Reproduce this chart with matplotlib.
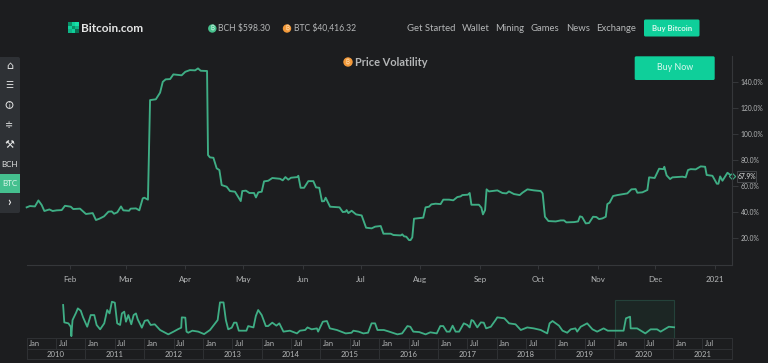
import matplotlib
matplotlib.use("Agg")
import matplotlib.pyplot as plt
from matplotlib.patches import Rectangle, FancyBboxPatch, Circle
from matplotlib.transforms import blended_transform_factory

# ---------- data ----------
main_days = [8.5,10.2,12.8,14.6,16.3,17.7,20.3,22,24.1,26.7,28.4,31.4,32.7,36.2,39.3,42.8,44.5,46.3,48.7,51,52.7,53.9,55.6,57.5,58.7,61.7,62.5,65.3,67,68.8,69.6,71.5,
72.6,75.6,77.8,79.2,80.7,83,84.7,89,90.9,93.3,96,97.5,98.9,101.5,102.2,
102.7,103.7,105.5,107.2,108.6,109.8,112.4,114.1,116.7,119.7,120.5,122.4,124.2,126.6,127.6,128.8,130.6,131.8,134,136.1,140.1,141.5,142.9,144.4,145.8,149.1,149.6,150.8,152.6,154.8,157.4,158.8,160.5,161.9,163,163.8,166.1,171,172.7,174.2,174.7,175.6,177.3,179.6,182.5,184.8,187.7,189.5,192.4,193.8,
197.6,199,202.8,203.6,204.5,205.7,207.1,207.9,208.8,209.7,214.5,215.7,217.5,218.7,220.9,223.5,224.9,227.9,230.1,232.2,233.9,234.8,237.7,238.6,239.5,243.4,244.7,245.5,246.6,247.4,248.6,253,255.6,257.7,259,261.6,264.6,266,268.6,272,275.5,276.5,277.7,279.5,283.3,285.9,287.6,288.8,292.8,294.9,295.9,297,298.9,300.6,302.7,304.4,305.8,307.5,309.3,310.1,311.3,313.1,315.3,320.5,322.6,324.8,325.7,328.3,330.9,331.8,334.7,337,339.2,339.7,340.9,342.7,343.9,349.1,350.8,352,353.4,356,358.6,360.9,361.7,364.7,367,367.8,368.7,369.9,372.5,374.6]
main_vol = [43.8,44.8,44.5,49.1,45.6,41,42.2,41,41.5,41.7,45,44.3,42.5,42.8,38.7,39.4,34.1,35.1,36.9,40.5,40.7,38.9,40,44.5,41.5,41.2,42.8,43,41.5,50.7,51.2,49.7,
126,126.6,131.7,140,141.9,142.1,145.7,145,147.7,149,148.8,150.3,148.5,148.3,148.3,
83.9,82.1,81.8,73.7,72.4,60.9,59.6,56.3,55.8,48.6,56.3,56.6,54.8,54.8,51.4,55.3,55.8,63.7,64.2,66.3,65.7,64.5,67,65,66.5,67,68,58.8,58.8,63.9,63.9,59.1,58.8,48.4,48.6,51.2,44.3,43.8,40.2,40.5,41.7,39.4,41.2,38.4,37.6,28.2,27.7,29,29.5,23.6,
23.6,22.6,22.3,23.1,21.6,21.3,18.7,18.7,20.8,35.1,35.9,43.8,44.3,46.1,46.6,46.3,49.7,49.7,49.2,51.7,52.2,53.2,53.5,54.8,45.8,45.8,43.5,38.4,41.7,57.6,56,56.8,54.8,54.5,56,54,53.2,55,57.6,56.8,56.3,54.5,36.6,33.3,33,33.8,33.8,32.3,32.5,33,36.9,36.4,31.5,31.8,36.6,36.4,34.8,35.3,36.6,46.3,47.4,52.5,53.2,54.5,57.6,57.8,55,55.3,57.1,66.8,66.3,73.4,73.1,74.9,68.3,65.5,66.8,67.3,66.8,72.4,73.1,72.9,75.2,74.9,68.6,68,61.9,61.9,67.5,64.2,70.3,67.9]
month_days = [31,60,91,121,152,182,213,244,274,305,335,366]
month_labels = ["Feb","Mar","Apr","May","Jun","Jul","Aug","Sep","Oct","Nov","Dec","2021"]
y_ticks = [20,40,60,80,100,120,140]
y_labels = ["20.0%","40.0%","60.0%","80.0%","100.0%","120.0%","140.0%"]

nav_years = [2010.62,2010.64,2010.71,2010.75,2010.76,2010.78,2010.84,2010.87,2010.92,2010.96,2011.03,2011.09,2011.15,2011.19,2011.25,2011.32,2011.37,2011.41,2011.45,2011.5,2011.54,2011.59,2011.62,2011.66,2011.69,2011.73,2011.78,2011.82,2011.86,2011.89,2011.96,2012.01,2012.06,2012.11,2012.18,2012.27,2012.41,2012.5,2012.58,2012.63,2012.64,2012.7,2012.72,2012.75,2012.82,2012.92,2013.02,2013.12,2013.25,2013.29,2013.35,2013.39,2013.43,2013.49,2013.53,2013.57,2013.61,2013.74,2013.77,2013.86,2013.9,2013.94,2014.0,2014.07,2014.11,2014.18,2014.25,2014.3,2014.37,2014.48,2014.6,2014.65,2014.74,2014.78,2014.85,2014.94,2014.96,2015.04,2015.11,2015.16,2015.28,2015.43,2015.53,2015.56,2015.65,2015.73,2015.81,2015.87,2015.93,2015.97,2016.08,2016.17,2016.31,2016.39,2016.48,2016.53,2016.58,2016.68,2016.79,2016.87,2016.98,2017.04,2017.09,2017.15,2017.2,2017.25,2017.3,2017.36,2017.44,2017.5,2017.54,2017.57,2017.6,2017.67,2017.73,2017.78,2017.82,2017.9,2017.98,2018.01,2018.13,2018.21,2018.32,2018.41,2018.52,2018.63,2018.75,2018.86,2018.9,2018.95,2019.06,2019.12,2019.2,2019.26,2019.34,2019.37,2019.43,2019.54,2019.63,2019.71,2019.82,2019.89,2020.02,2020.16,2020.2,2020.27,2020.28,2020.39,2020.53,2020.62,2020.73,2020.79,2020.93,2021.02]
nav_vol = [231,103,96,71,2,120,174,206,189,140,71,157,157,84,52,96,194,169,255,248,96,84,169,182,108,157,89,157,169,125,64,115,120,84,89,47,15,35,54,64,140,138,35,27,42,35,17,47,120,250,250,120,52,64,101,101,42,42,76,66,150,194,157,76,76,101,79,96,35,42,22,42,47,66,52,59,35,108,113,59,47,22,27,42,35,22,27,96,96,47,47,35,15,22,76,71,35,32,15,30,22,76,76,35,35,79,35,35,96,84,66,120,115,66,103,101,59,71,120,140,133,96,89,47,66,59,47,22,96,113,79,42,27,52,59,35,71,96,52,35,59,42,42,42,133,145,59,59,22,52,52,35,71,67]
nav_year_ticks = list(range(2010, 2023))
selection = (2020.02, 2021.02)

# ---------- palette ----------
BG = "#1c1d1f"; LINE = "#3fae85"; GRID = "#35373a"; TABLE = "#2f3134"; TXT = "#b4b6b7"; BRIGHT = "#e4e5e5"
BTN = "#0fcf9a"; SIDE = "#2e3135"; ORANGE = "#f2993a"

W, H = 768, 363
plt.rcParams["font.family"] = ["Lato", "DejaVu Sans"]
fig = plt.figure(figsize=(W/100, H/100), dpi=100, facecolor=BG)

def axes_px(l, t, r, b, **kw):
    return fig.add_axes([l/W, 1-b/H, (r-l)/W, (b-t)/H], **kw)

# ---------- main chart ----------
ax = axes_px(27, 56, 731.5, 264.5, facecolor="none")
ax.plot(main_days, main_vol, color=LINE, lw=1.35, solid_joinstyle="round", clip_on=False)
ax.plot(main_days[-1], main_vol[-1], "D", ms=3.2, mfc=BG, mec=LINE, mew=0.8, clip_on=False)
ax.set_xlim(8.68, 374.6); ax.set_ylim(0, 159.8)
for s in ("top", "left"):
    ax.spines[s].set_visible(False)
for s in ("bottom", "right"):
    ax.spines[s].set_color(GRID); ax.spines[s].set_linewidth(0.8)
ax.yaxis.tick_right()
ax.set_xticks(month_days, month_labels)
ax.set_yticks(y_ticks, y_labels)
ax.tick_params(axis="x", colors=GRID, length=3, width=0.7, pad=5, labelsize=5.8, labelcolor=TXT)
ax.tick_params(axis="y", colors=GRID, length=4, width=0.7, pad=2.8, labelsize=4.9, labelcolor=TXT)

# ---------- navigator ----------
nav = axes_px(26.7, 299, 731.7, 338.3, facecolor="none")
nav.set_xlim(2010, 2022); nav.set_ylim(-14, 275)
nav.axis("off")
nav.add_patch(Rectangle((selection[0], -14), selection[1]-selection[0], 283, fc="#1c2624", ec="#24423a", lw=0.8))
nav.plot(nav_years, nav_vol, color=LINE, lw=1.3, solid_joinstyle="round", clip_on=False)

# ---------- page furniture in pixel coordinates ----------
ui = fig.add_axes([0, 0, 1, 1], facecolor="none", zorder=5)
ui.set_xlim(0, W); ui.set_ylim(H, 0); ui.axis("off")

def box(x0, y0, x1, y1, fc, r=1.5, ec="none"):
    ui.add_patch(FancyBboxPatch((x0, y0), x1-x0, y1-y0, boxstyle=f"round,pad=0,rounding_size={r}", fc=fc, ec=ec, lw=0.6))

def coin(x, y, r, c, sym="₿", size=4.5):
    ui.add_patch(Circle((x, y), r, fc=c, ec="none"))
    ui.text(x, y, sym, color="#ffe2b8" if c == ORANGE else "#d8f5e8", fontsize=size, ha="center", va="center",
            family=["Inter", "Noto Sans", "DejaVu Sans"])

# navigator calendar table
tr = blended_transform_factory(nav.transData, ui.transData)
for y in (338.3, 349, 359):
    ui.plot([2010, 2022], [y, y], color=TABLE, lw=0.7, transform=tr, clip_on=False)
for yr in nav_year_ticks:
    ui.plot([yr, yr], [338.3, 359], color=TABLE, lw=0.7, transform=tr)
    if yr < 2022:
        ui.plot([yr+0.5, yr+0.5], [338.3, 349], color=TABLE, lw=0.7, transform=tr)
        ui.text(yr+0.14, 344, "Jan", color=TXT, fontsize=5.4, ha="center", va="center", transform=tr)
        ui.text(yr+0.62, 344, "Jul", color=TXT, fontsize=5.4, ha="center", va="center", transform=tr)
        ui.text(yr+0.5, 354.5, str(yr), color=TXT, fontsize=5.6, ha="center", va="center", transform=tr)

# header
for x, y, c in [(69, 23, "#0a8f67"), (72.5, 23, "#0fcf9a"), (76, 23, "#17e0a8"),
                (69, 26.5, "#0fcf9a"), (72.5, 26.5, "#0a8f67"), (76, 26.5, "#0fb487"),
                (69, 30, "#0fb487"), (72.5, 30, "#0fcf9a"), (76, 30, "#0a6f52")]:
    ui.add_patch(Rectangle((x-0.8, y-0.8), 3.6, 3.6, fc=c, ec="none"))
ui.text(80.5, 28.5, "Bitcoin.com", color=BRIGHT, fontsize=8.5, fontweight="bold", ha="left", va="center")
coin(212.3, 28.5, 4.2, "#46c08c")
ui.text(218.5, 28.5, "BCH $598.30", color=TXT, fontsize=6.2, ha="left", va="center")
coin(287, 28.5, 4.2, ORANGE)
ui.text(293.5, 28.5, "BTC $40,416.32", color=TXT, fontsize=6.2, ha="left", va="center")
nav_items = [("Get Started", 431), ("Wallet", 475.7), ("Mining", 509.7), ("Games", 545), ("News", 578), ("Exchange", 616)]
for label, x in nav_items:
    ui.text(x, 28.5, label, color=TXT, fontsize=6.8, ha="center", va="center")
box(644, 19.5, 699.5, 36.5, BTN)
ui.text(671.7, 28.3, "Buy Bitcoin", color="#d9f8ee", fontsize=5.6, fontweight="bold", ha="center", va="center")
box(634.7, 56.3, 714.7, 80, BTN)
ui.text(674.7, 68, "Buy Now", color="#d9f8ee", fontsize=6.4, ha="center", va="center")
coin(348, 62, 4.7, ORANGE)
ui.text(355, 62.8, "Price Volatility", color=TXT, fontsize=7.9, fontweight="bold", ha="left", va="center")

# sidebar
box(-5, 57, 20, 213, SIDE, r=2)
ui.add_patch(Rectangle((0, 174), 20, 18.5, fc="#45c08f", ec="none"))
ui.text(9.5, 66, "⌂", color=BRIGHT, fontsize=8, ha="center", va="center", family="DejaVu Sans")
ui.text(9.5, 85.5, "☰", color=BRIGHT, fontsize=6.5, ha="center", va="center", family="DejaVu Sans")
ui.add_patch(Circle((9.5, 105), 3.4, fc="none", ec=BRIGHT, lw=0.7))
ui.text(9.5, 105, "i", color=BRIGHT, fontsize=5, ha="center", va="center")
ui.text(9.5, 124.5, "≑", color=BRIGHT, fontsize=7, ha="center", va="center", family="DejaVu Sans")
ui.text(9.5, 144.5, "⚒", color=BRIGHT, fontsize=8, ha="center", va="center", family="DejaVu Sans")
ui.text(9.5, 164.5, "BCH", color=BRIGHT, fontsize=5.8, ha="center", va="center")
ui.text(9.5, 183.3, "BTC", color="#dff7ec", fontsize=5.8, ha="center", va="center")
ui.text(9.5, 201.5, "›", color=BRIGHT, fontsize=9, fontweight="bold", ha="center", va="center")

# last value box
ui.add_patch(Rectangle((737, 170.7), 19, 11.5, fc=BG, ec="#45474a", lw=0.7))
ui.text(746.5, 176.5, "67.9%", color=BRIGHT, fontsize=4.9, ha="center", va="center")

fig.savefig("out.png", dpi=100, facecolor=BG)
